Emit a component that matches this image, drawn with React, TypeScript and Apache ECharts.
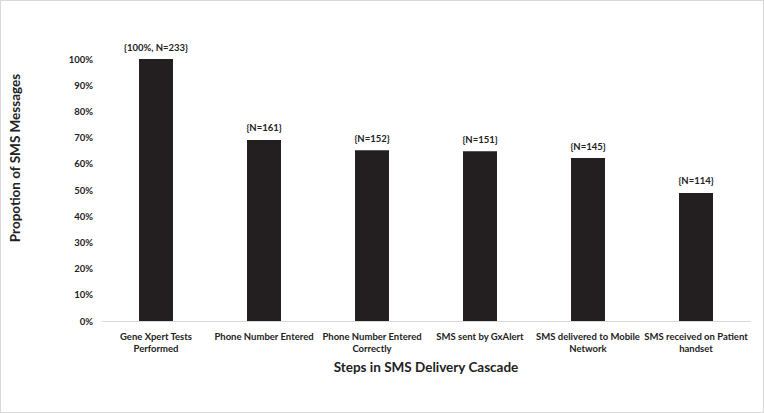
import React, { useEffect, useRef } from "react";
import * as echarts from "echarts";

const categories = [
  "Gene Xpert Tests\nPerformed",
  "Phone Number Entered",
  "Phone Number Entered\nCorrectly",
  "SMS sent by GxAlert",
  "SMS delivered to Mobile\nNetwork",
  "SMS received on Patient\nhandset",
];
const proportions = [100, 69.1, 65.2, 64.8, 62.2, 48.9];
const barLabels = ["{100%, N=233}", "{N=161}", "{N=152}", "{N=151}", "{N=145}", "{N=114}"];
const yTicks = [0, 10, 20, 30, 40, 50, 60, 70, 80, 90, 100];

const FONT = "Lato, 'Open Sans', sans-serif";

export default function App() {
  const ref = useRef<HTMLDivElement>(null);
  useEffect(() => {
    if (!ref.current) return;
    const chart = echarts.init(ref.current, null, { renderer: "svg" });
    chart.setOption({
      animation: false,
      backgroundColor: "#ffffff",
      grid: { left: 101, right: 13, top: 58, bottom: 91 },
      graphic: [
        {
          type: "text",
          x: 14,
          y: 157,
          rotation: Math.PI / 2,
          style: {
            text: "Propotion of SMS Messages",
            fontFamily: FONT,
            fontWeight: "bold",
            fontSize: 13.5,
            fill: "#222",
            align: "center",
            verticalAlign: "middle",
          },
        },
      ],
      xAxis: {
        type: "category",
        data: categories,
        name: "Steps in SMS Delivery Cascade",
        nameLocation: "middle",
        nameGap: 39,
        nameTextStyle: { fontFamily: FONT, fontWeight: "bold", fontSize: 13.5, color: "#222" },
        axisLine: { lineStyle: { color: "#d9d9d9", width: 1 } },
        axisTick: { show: false },
        axisLabel: {
          interval: 0,
          fontFamily: FONT,
          fontWeight: "bold",
          fontSize: 9.5,
          lineHeight: 12,
          color: "#222",
          margin: 9,
        },
      },
      yAxis: {
        type: "value",
        min: yTicks[0],
        max: yTicks[yTicks.length - 1],
        interval: 10,
        axisLine: { show: false },
        axisTick: { show: false },
        splitLine: { show: false },
        axisLabel: {
          formatter: (v: number) => v + "%",
          fontFamily: FONT,
          fontWeight: "bold",
          fontSize: 9.5,
          color: "#222",
          margin: 9,
        },
      },
      series: [
        {
          type: "bar",
          data: proportions,
          barWidth: 34,
          itemStyle: { color: "#231f20" },
          label: {
            show: true,
            position: "top",
            distance: 7,
            formatter: (p: any) => barLabels[p.dataIndex],
            fontFamily: FONT,
            fontWeight: "bold",
            fontSize: 9.5,
            color: "#222",
          },
        },
      ],
    });
    return () => chart.dispose();
  }, []);
  return (
    <div
      ref={ref}
      style={{
        position: "fixed",
        left: 0,
        top: 0,
        width: 764,
        height: 413,
        boxSizing: "border-box",
        border: "1px solid #d9d9d9",
        background: "#fff",
      }}
    />
  );
}
